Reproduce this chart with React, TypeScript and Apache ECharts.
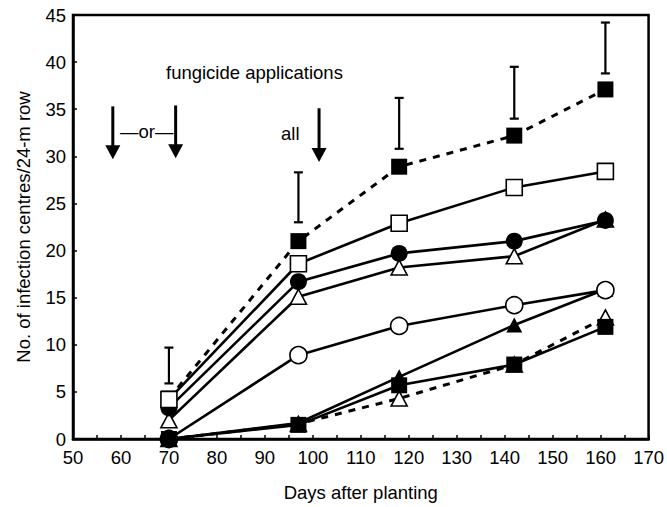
import React, { useEffect, useRef } from "react";
import * as echarts from "echarts";

const days = [70, 97, 118, 142, 161];
const filledSquareDashed = [4.3, 21.0, 28.9, 32.2, 37.1];
const openSquare = [4.2, 18.6, 22.9, 26.7, 28.4];
const filledCircle = [3.3, 16.7, 19.7, 21.0, 23.2];
const openTriangleSolid = [2.0, 15.1, 18.2, 19.4, 23.3];
const openCircle = [0, 8.9, 12.0, 14.2, 15.8];
const filledTriangle = [0, 1.7, 6.6, 12.1, 15.9];
const filledSquareSolid = [0, 1.5, 5.7, 7.9, 11.9];
const openTriangleDashed = [0, 1.6, 4.3, 7.9, 12.9];

// error bars: [day, low, high]
const errorBars = [
  [70, 5.9, 9.7],
  [97, 23.0, 28.3],
  [118, 30.8, 36.2],
  [142, 34.0, 39.5],
  [161, 38.8, 44.2],
];

// arrows: [day, top, tip]
const arrows = [
  [58.3, 35.3, 29.7],
  [71.4, 35.4, 29.8],
  [101.3, 35.1, 29.4],
];

const xTicks = { min: 50, max: 170, interval: 10 };
const yTicks = { min: 0, max: 45, interval: 5 };

const FONT = "Liberation Sans, Arial, Helvetica, sans-serif";
const FS = 18.5;

function pairs(vals: number[]) {
  return days.map((d, i) => [d, vals[i]]);
}

export default function App() {
  const ref = useRef<HTMLDivElement>(null);
  useEffect(() => {
    if (!ref.current) return;
    const chart = echarts.init(ref.current, null, { renderer: "svg" });

    const mk = (
      name: string,
      vals: number[],
      symbol: string,
      filled: boolean,
      dashed: boolean,
      size: number | number[]
    ) => ({
      name,
      type: "line",
      data: pairs(vals),
      symbol,
      symbolSize: size,
      showAllSymbol: true,
      clip: false,
      lineStyle: {
        color: "#000",
        width: dashed ? 3 : 2.6,
        type: dashed ? [7, 7] : "solid",
      },
      itemStyle: {
        color: filled ? "#000" : "#fff",
        borderColor: "#000",
        borderWidth: filled ? 0 : 1.6,
      },
      emphasis: { disabled: true },
    });

    const option: any = {
      animation: false,
      textStyle: { fontFamily: FONT },
      grid: {
        left: 73,
        right: 16,
        top: 15,
        bottom: 66,
        show: true,
        borderColor: "#000",
        borderWidth: 2.5,
        backgroundColor: "transparent",
      },
      xAxis: {
        type: "value",
        min: xTicks.min,
        max: xTicks.max,
        interval: xTicks.interval,
        name: "Days after planting",
        nameLocation: "middle",
        nameGap: 44,
        nameTextStyle: { fontSize: FS, color: "#000", fontFamily: FONT },
        axisLine: { lineStyle: { color: "#000", width: 2.5 } },
        axisTick: { inside: true, length: 4, lineStyle: { color: "#000", width: 1.5 } },
        minorTick: { show: true, splitNumber: 2, length: 4, lineStyle: { color: "#000", width: 1.5 } },
        axisLabel: { fontSize: FS, color: "#000", margin: 9, fontFamily: FONT },
        splitLine: { show: false },
      },
      yAxis: {
        type: "value",
        min: yTicks.min,
        max: yTicks.max,
        interval: yTicks.interval,
        name: "No. of infection centres/24-m row",
        nameLocation: "middle",
        nameGap: 40,
        nameTextStyle: { fontSize: FS, color: "#000", fontFamily: FONT },
        axisLine: { lineStyle: { color: "#000", width: 2.5 } },
        axisTick: { inside: true, length: 4, lineStyle: { color: "#000", width: 1.5 } },
        axisLabel: { fontSize: FS, color: "#000", margin: 7, fontFamily: FONT },
        splitLine: { show: false },
      },
      series: [
        {
          type: "custom",
          name: "errorbars",
          data: errorBars,
          clip: false,
          renderItem: (params: any, api: any) => {
            const x = api.value(0);
            const p1 = api.coord([x, api.value(1)]);
            const p2 = api.coord([x, api.value(2)]);
            const hw = 4.5;
            const st = { stroke: "#000", lineWidth: 2.2 };
            return {
              type: "group",
              children: [
                { type: "line", shape: { x1: p1[0], y1: p1[1], x2: p2[0], y2: p2[1] }, style: st },
                { type: "line", shape: { x1: p1[0] - hw, y1: p1[1], x2: p1[0] + hw, y2: p1[1] }, style: st },
                { type: "line", shape: { x1: p2[0] - hw, y1: p2[1], x2: p2[0] + hw, y2: p2[1] }, style: st },
              ],
            };
          },
        },
        {
          type: "custom",
          name: "arrows",
          data: arrows,
          clip: false,
          renderItem: (params: any, api: any) => {
            const x = api.value(0);
            const top = api.coord([x, api.value(1)]);
            const tip = api.coord([x, api.value(2)]);
            const hh = 14;
            const hw = 7.5;
            return {
              type: "group",
              children: [
                {
                  type: "line",
                  shape: { x1: top[0], y1: top[1], x2: tip[0], y2: tip[1] - hh + 1 },
                  style: { stroke: "#000", lineWidth: 3 },
                },
                {
                  type: "polygon",
                  shape: {
                    points: [
                      [tip[0] - hw, tip[1] - hh],
                      [tip[0] + hw, tip[1] - hh],
                      [tip[0], tip[1]],
                    ],
                  },
                  style: { fill: "#000" },
                },
              ],
            };
          },
        },
        mk("openTriangleDashed", openTriangleDashed, "triangle", false, true, [16, 15]),
        mk("filledTriangle", filledTriangle, "triangle", true, false, [16, 15]),
        mk("openCircle", openCircle, "circle", false, false, 17),
        mk("filledSquareSolid", filledSquareSolid, "rect", true, false, 16),
        mk("openTriangleSolid", openTriangleSolid, "triangle", false, false, [16, 15]),
        mk("filledCircle", filledCircle, "circle", true, false, 17),
        mk("filledSquareDashed", filledSquareDashed, "rect", true, true, 16),
        mk("openSquare", openSquare, "rect", false, false, 16),
      ],
      graphic: [
        {
          type: "text",
          x: 166,
          y: 72,
          style: { text: "fungicide applications", fontSize: FS, fill: "#000", fontFamily: FONT, align: "left", verticalAlign: "middle" },
        },
        {
          type: "text",
          x: 120,
          y: 131,
          style: { text: "—or—", fontSize: FS, fill: "#000", fontFamily: FONT, align: "left", verticalAlign: "middle" },
        },
        {
          type: "text",
          x: 281,
          y: 133,
          style: { text: "all", fontSize: FS, fill: "#000", fontFamily: FONT, align: "left", verticalAlign: "middle" },
        },
      ],
    };
    chart.setOption(option);
    return () => chart.dispose();
  }, []);
  return (
    <div
      ref={ref}
      style={{ position: "fixed", left: 0, top: 0, width: 667, height: 507, background: "#fff" }}
    />
  );
}
